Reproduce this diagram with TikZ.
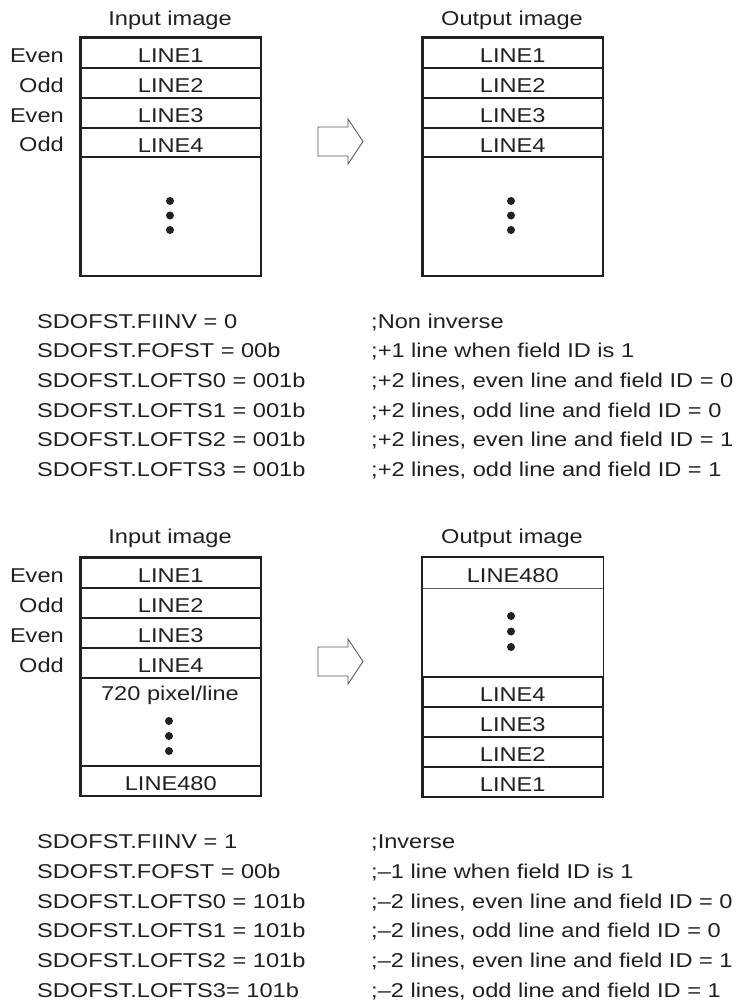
\documentclass[tikz,border=0pt]{standalone}
\usepackage{fontspec}
\setmainfont{Liberation Sans}[FakeStretch=1.18]
\definecolor{ink}{RGB}{35,31,32}
\begin{document}
\begin{tikzpicture}[x=1pt,y=-1pt,
  every node/.style={font=\fontsize{20}{24}\selectfont, text=ink},
  row/.style={draw=ink, line width=1.5pt, minimum width=180pt, inner sep=0pt,
              text height=20pt, text depth=0pt, anchor=north west},
  blank/.style={row, draw=none},
  frame/.style={draw=ink, line width=1.8pt},
  thinsep/.style={draw=ink!70, line width=0.7pt},
  lab/.style={anchor=base east, inner sep=0pt},
  title/.style={anchor=base, inner sep=0pt},
  code/.style={anchor=base west, inner sep=0pt},
  dot/.style={circle, fill=ink, inner sep=0pt, minimum size=8pt},
  blockarrow/.style={draw=ink!75, line width=0.9pt, fill=white}
]
\useasboundingbox (0,0) rectangle (738,1005);

% ---------- Section 1 ----------
\node[title] (tin1) at (170,25) {Input image};
\node[title] (tout1) at (512,25) {Output image};

\node[row, minimum height=30pt] (i1) at (80,37) {LINE1};
\node[row, minimum height=30pt] (i2) at (80,67) {LINE2};
\node[row, minimum height=30pt] (i3) at (80,97) {LINE3};
\node[row, minimum height=29pt] (i4) at (80,127) {LINE4};
\node[row, minimum height=119pt] (ib) at (80,156) {};
\draw[frame] (i1.north west) rectangle (ib.south east);
\node[dot] (id1) at (170,201) {};
\node[dot] (id2) at (170,215.5) {};
\node[dot] (id3) at (170,230) {};

\node[lab] (l1) at (64,62) {Even};
\node[lab] (l2) at (64,92) {Odd};
\node[lab] (l3) at (64,122) {Even};
\node[lab] (l4) at (64,151.5) {Odd};

\node[row, minimum height=30pt] (o1) at (422,37) {LINE1};
\node[row, minimum height=30pt] (o2) at (422,67) {LINE2};
\node[row, minimum height=30pt] (o3) at (422,97) {LINE3};
\node[row, minimum height=29pt] (o4) at (422,127) {LINE4};
\node[row, minimum height=119pt] (ob) at (422,156) {};
\draw[frame] (o1.north west) rectangle (ob.south east);
\node[dot] (od1) at (511,201) {};
\node[dot] (od2) at (511,215.5) {};
\node[dot] (od3) at (511,230) {};

\draw[blockarrow] (318,127) -- (348,127) -- (348,119) -- (363,141.5) -- (348,164)
  -- (348,156) -- (318,156) -- cycle;

% code block 1
\node[code] (a1) at (37,328) {SDOFST.FIINV = 0};
\node[code] (a2) at (37,357.7) {SDOFST.FOFST = 00b};
\node[code] (a3) at (37,387.4) {SDOFST.LOFTS0 = 001b};
\node[code] (a4) at (37,417.1) {SDOFST.LOFTS1 = 001b};
\node[code] (a5) at (37,446.8) {SDOFST.LOFTS2 = 001b};
\node[code] (a6) at (37,476.5) {SDOFST.LOFTS3 = 001b};
\node[code] (c1) at (371,328) {;Non inverse};
\node[code] (c2) at (371,357.7) {;+1 line when field ID is 1};
\node[code] (c3) at (371,387.4) {;+2 lines, even line and field ID = 0};
\node[code] (c4) at (371,417.1) {;+2 lines, odd line and field ID = 0};
\node[code] (c5) at (371,446.8) {;+2 lines, even line and field ID = 1};
\node[code] (c6) at (371,476.5) {;+2 lines, odd line and field ID = 1};

% ---------- Section 2 ----------
\node[title] (tin2) at (170,543) {Input image};
\node[title] (tout2) at (512,543) {Output image};

\node[row, minimum height=30pt] (j1) at (80,557) {LINE1};
\node[row, minimum height=30pt] (j2) at (80,587) {LINE2};
\node[row, minimum height=30pt] (j3) at (80,617) {LINE3};
\node[row, minimum height=30pt] (j4) at (80,647) {LINE4};
\node[row, minimum height=88pt] (jb) at (80,677) {};
\node[row, minimum height=30pt] (j480) at (80,765) {LINE480};
\draw[frame] (j1.north west) rectangle (j480.south east);
\node[title] (px) at (170,700) {720 pixel/line};
\node[dot] (jd1) at (169,721) {};
\node[dot] (jd2) at (169,736) {};
\node[dot] (jd3) at (169,751) {};

\node[lab] (m1) at (64,582) {Even};
\node[lab] (m2) at (64,612) {Odd};
\node[lab] (m3) at (64,642) {Even};
\node[lab] (m4) at (64,672) {Odd};

\node[blank, minimum height=30pt] (p480) at (422,557) {LINE480};
\node[blank, minimum height=89pt] (pb) at (422,587) {};
\draw[thinsep] (p480.south west) -- (p480.south east);
\node[row, minimum height=30pt] (p4) at (422,676) {LINE4};
\node[row, minimum height=30pt] (p3) at (422,706) {LINE3};
\node[row, minimum height=30pt] (p2) at (422,736) {LINE2};
\node[row, minimum height=30pt] (p1) at (422,766) {LINE1};
\draw[frame] (p480.north west) rectangle (p1.south east);
\node[dot] (pd1) at (511,616) {};
\node[dot] (pd2) at (511,631.5) {};
\node[dot] (pd3) at (511,647) {};

\draw[blockarrow] (318,647) -- (348,647) -- (348,639) -- (363,661.5) -- (348,684)
  -- (348,676) -- (318,676) -- cycle;

% code block 2
\node[code] (b1) at (37,848.6) {SDOFST.FIINV = 1};
\node[code] (b2) at (37,878.3) {SDOFST.FOFST = 00b};
\node[code] (b3) at (37,908) {SDOFST.LOFTS0 = 101b};
\node[code] (b4) at (37,937.7) {SDOFST.LOFTS1 = 101b};
\node[code] (b5) at (37,967.4) {SDOFST.LOFTS2 = 101b};
\node[code] (b6) at (37,997.1) {SDOFST.LOFTS3= 101b};
\node[code] (d1) at (371,848.6) {;Inverse};
\node[code] (d2) at (371,878.3) {;–1 line when field ID is 1};
\node[code] (d3) at (371,908) {;–2 lines, even line and field ID = 0};
\node[code] (d4) at (371,937.7) {;–2 lines, odd line and field ID = 0};
\node[code] (d5) at (371,967.4) {;–2 lines, even line and field ID = 1};
\node[code] (d6) at (371,997.1) {;–2 lines, odd line and field ID = 1};
\end{tikzpicture}
\end{document}
